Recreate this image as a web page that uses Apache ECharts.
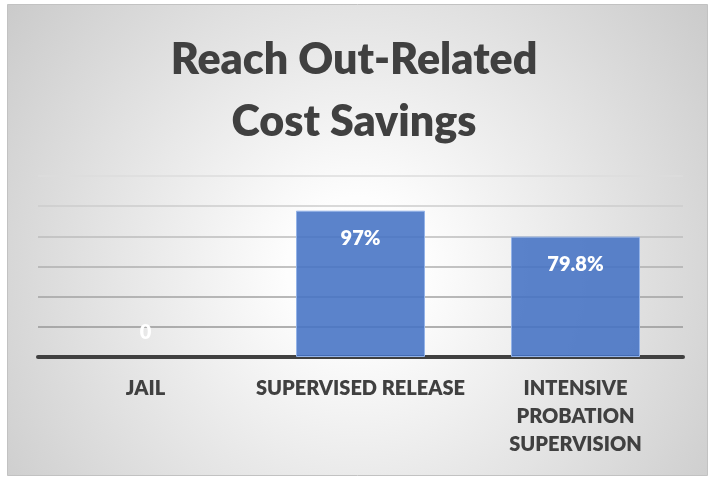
<!DOCTYPE html>
<html>
<head>
<meta charset="utf-8">
<script src="https://cdn.jsdelivr.net/npm/echarts@6/dist/echarts.min.js"></script>
<style>
html,body{margin:0;padding:0;background:#ffffff;}
#chart{width:710px;height:477px;}
</style>
</head>
<body>
<div id="chart"></div>
<script>
const titleText = 'Reach Out-Related\nCost Savings';
const categories = ['JAIL', 'SUPERVISED RELEASE', 'INTENSIVE\nPROBATION\nSUPERVISION'];
const values = [0, 97, 79.8];
const valueLabels = ['0', '97%', '79.8%'];
const axisMin = 0, axisMax = 120, axisStep = 20;

const chart = echarts.init(document.getElementById('chart'), null, {renderer: 'canvas'});
const FONT = 'Lato';
const option = {
  animation: false,
  graphic: [{
    type: 'rect', z: -10, silent: true,
    shape: {x: 7.5, y: 4.5, width: 700, height: 471},
    style: {
      fill: {type: 'radial', x: 0.5, y: 0.56, r: 1.0,
        colorStops: [{offset: 0, color: '#ffffff'}, {offset: 0.15, color: '#fdfdfd'}, {offset: 1, color: '#c6c6c6'}]},
      stroke: '#c2c2c2', lineWidth: 1
    }
  }],
  title: {
    text: titleText,
    left: 349, top: 24, textAlign: 'center',
    textStyle: {fontFamily: FONT, fontWeight: 800, fontSize: 43, lineHeight: 62, color: '#404040'}
  },
  grid: {left: 38, right: 27, top: 176, bottom: 120, containLabel: false},
  xAxis: {
    type: 'category', data: categories,
    axisLine: {show: true, lineStyle: {color: '#404040', width: 4}},
    axisTick: {show: false},
    axisLabel: {margin: 18, fontFamily: FONT, fontWeight: 800, fontSize: 20, lineHeight: 28, color: '#404040', interval: 0}
  },
  yAxis: {
    type: 'value', min: axisMin, max: axisMax, interval: axisStep,
    axisLine: {show: false}, axisTick: {show: false}, axisLabel: {show: false},
    splitLine: {show: true, lineStyle: {width: 1.5, color: ['#999999', '#979797', '#a2a2a2', '#afafaf', '#bdbdbd', '#cdcdcd', '#dddddd']}}
  },
  series: [{
    type: 'bar', barWidth: '60%',
    itemStyle: {color: 'rgba(68,114,196,0.88)', borderColor: '#94b3e8', borderWidth: 1},
    label: {
      show: true, position: 'insideTop', distance: 18,
      fontFamily: FONT, fontWeight: 800, fontSize: 20, color: '#ffffff',
      formatter: p => valueLabels[p.dataIndex]
    },
    data: values.map(v => v === 0
      ? {value: v, itemStyle: {borderWidth: 0}, label: {position: 'top', distance: 14}}
      : v)
  }]
};
chart.setOption(option);
</script>
</body>
</html>
